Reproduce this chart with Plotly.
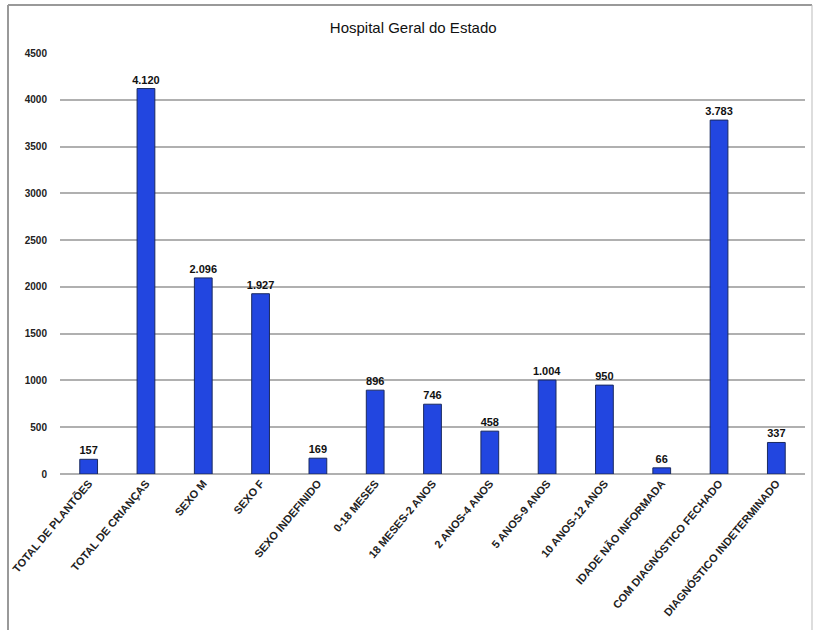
import plotly.graph_objects as go

categories = ["TOTAL DE PLANTÕES", "TOTAL DE CRIANÇAS", "SEXO M", "SEXO F", "SEXO INDEFINIDO",
              "0-18 MESES", "18 MESES-2 ANOS", "2 ANOS-4 ANOS", "5 ANOS-9 ANOS", "10 ANOS-12 ANOS",
              "IDADE NÃO INFORMADA", "COM DIAGNÓSTICO FECHADO", "DIAGNÓSTICO INDETERMINADO"]
values = [157, 4120, 2096, 1927, 169, 896, 746, 458, 1004, 950, 66, 3783, 337]
tick_vals = [0, 500, 1000, 1500, 2000, 2500, 3000, 3500, 4000, 4500]

def fmt(v):
    return f"{v:,}".replace(",", ".")

W, H = 815, 630
L, R, T, B = 60, 10, 53, 156
FONT = "Liberation Sans Narrow, Arial Narrow, Liberation Sans"

fig = go.Figure(go.Bar(
    x=categories, y=values,
    text=["<b>" + fmt(v) + "</b>" for v in values], textposition="outside",
    constraintext="none",
    textfont=dict(family=FONT, size=11, color="#111"),
    marker=dict(color="#2246e0", line=dict(color="#1a2a60", width=1)),
    width=0.31, cliponaxis=False,
))

fig.update_layout(
    width=W, height=H, margin=dict(l=L, r=R, t=T, b=B),
    paper_bgcolor="white", plot_bgcolor="white",
    title=dict(text="Hospital Geral do Estado", x=0.507, xanchor="center", y=1 - 28 / H, yanchor="middle",
               font=dict(family=FONT, size=15, color="#111")),
    showlegend=False,
    xaxis=dict(tickangle=-50, tickfont=dict(family=FONT, size=11, color="#222"),
               tickprefix="<b>", ticksuffix="</b>",
               showline=False, ticks="", showgrid=False),
    yaxis=dict(range=[0, 4500], tickvals=tick_vals, ticktext=["<b>" + str(v) + "</b>" for v in tick_vals],
               tickfont=dict(family=FONT, size=10, color="#222"),
               showgrid=True, gridcolor="#b0b0b0", gridwidth=1.5, zeroline=True, zerolinecolor="#b0b0b0",
               zerolinewidth=1.5, ticks="", ticklabelstandoff=12),
)

pw = W - L - R
ph = H - T - B
def px2x(p): return (p - L) / pw
def py2y(p): return (H - B - p) / ph
fig.add_shape(type="line", xref="paper", yref="paper", x0=px2x(8), x1=px2x(8), y0=py2y(5), y1=py2y(630),
              line=dict(color="#999", width=2))
fig.add_shape(type="line", xref="paper", yref="paper", x0=px2x(8), x1=px2x(812), y0=py2y(5), y1=py2y(5),
              line=dict(color="#999", width=2))
fig.add_shape(type="line", xref="paper", yref="paper", x0=px2x(812), x1=px2x(812), y0=py2y(5), y1=py2y(630),
              line=dict(color="#bbb", width=1))

fig.write_html("out.html")
